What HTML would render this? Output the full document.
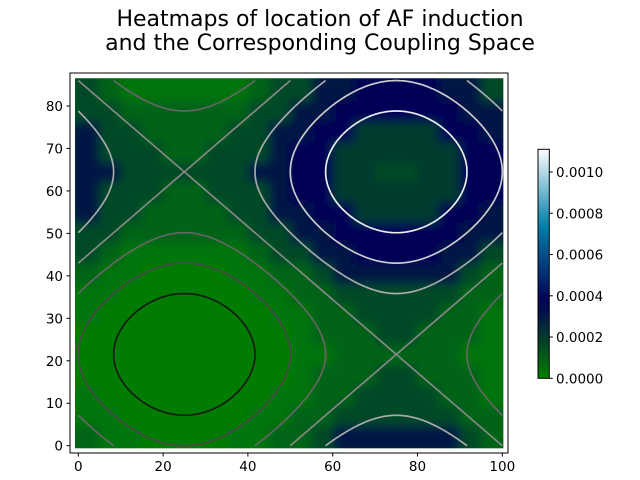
<!DOCTYPE html>
<html><head><meta charset="utf-8"><style>
body{margin:0;background:#fff;}
svg{display:block;font-family:"DejaVu Sans","Liberation Sans",sans-serif;}
</style></head><body>
<svg id="chart" width="640" height="480" viewBox="0 0 640 480">
<defs>
<clipPath id="hexclip"><rect x="75" y="78.3" width="428.3" height="370"/></clipPath>
<filter id="blur" x="-5%" y="-5%" width="110%" height="110%"><feGaussianBlur stdDeviation="5"/></filter>
<linearGradient id="cbgrad" x1="0" y1="1" x2="0" y2="0"></linearGradient>
</defs>
<text x="320" y="26" font-size="22" text-anchor="middle">Heatmaps of location of AF induction</text>
<text x="320" y="50" font-size="22" text-anchor="middle">and the Corresponding Coupling Space</text>
<g id="plot">
  <g clip-path="url(#hexclip)"><rect x="75" y="78.3" width="428.3" height="370" fill="#008000"/><g id="cells" filter="url(#blur)"></g></g>
  <g id="contours"></g>
  <rect x="70" y="73" width="438" height="380" fill="none" stroke="#000" stroke-width="1"/>
  <g id="xticks"></g><g id="yticks"></g>
</g>
<g id="colorbar">
  <rect x="538" y="149.3" width="11.3" height="229" fill="url(#cbgrad)" stroke="#000" stroke-width="1"/>
  <g id="cbticks"></g>
</g>
</svg>
<script>
// heatmap density (units 1e-4), rows from y=0 upward, 20 columns x 18 rows
const heatRows = [
[.8,.3,.3,.1,.1,.1,.1,.3,.3,.8,.8,1.6,3.0,3.0,3.0,3.0,3.0,3.0,1.6,.8],
[.3,.3,.1,.1,.1,.1,.1,.1,.3,.3,.8,.8,1.6,1.6,1.6,1.6,1.6,1.6,.8,.8],
[.3,.1,.1,.1,.1,.1,.1,.1,.1,.3,.3,.8,.8,1.6,1.6,1.6,1.6,.8,.8,.3],
[.1,.1,.1,.1,.1,.1,.1,.1,.1,.1,.3,.8,.8,.8,1.6,1.6,.8,.8,.8,.3],
[.1,.1,.1,.1,.1,.1,.1,.1,.1,.1,.3,.3,.8,.8,.8,.8,.8,.8,.3,.3],
[.1,.1,.1,.1,.1,.1,.1,.1,.1,.1,.3,.8,.8,.8,1.6,1.6,.8,.8,.8,.3],
[.3,.1,.1,.1,.1,.1,.1,.1,.1,.3,.3,.8,.8,1.6,1.6,1.6,1.6,.8,.8,.3],
[.3,.3,.1,.1,.1,.1,.1,.1,.3,.3,.8,.8,1.6,1.6,1.6,1.6,1.6,1.6,.8,.8],
[.8,.3,.3,.1,.1,.1,.1,.3,.3,.8,.8,1.6,3.0,3.0,3.0,3.0,3.0,3.0,1.6,.8],
[1.6,.8,.3,.3,.3,.3,.3,.3,.8,1.6,1.6,3.0,3.0,3.8,3.8,3.8,3.8,3.0,3.0,1.6],
[1.6,1.6,.8,.8,.8,.8,.8,.8,1.6,1.6,3.0,3.0,3.8,3.8,3.8,3.8,3.8,3.8,3.0,3.0],
[3.0,1.6,1.6,.8,.8,.8,.8,1.6,1.6,3.0,3.0,3.8,3.8,2.0,2.0,2.0,2.0,3.8,3.8,3.0],
[3.0,1.6,1.6,1.6,.8,.8,1.6,1.6,1.6,3.0,3.8,3.8,2.0,2.0,2.0,2.0,2.0,2.0,3.8,3.8],
[3.0,3.0,1.6,1.6,1.6,1.6,1.6,1.6,3.0,3.0,3.8,3.8,2.0,2.0,1.6,1.6,2.0,2.0,3.8,3.8],
[3.0,1.6,1.6,1.6,.8,.8,1.6,1.6,1.6,3.0,3.8,3.8,2.0,2.0,2.0,2.0,2.0,2.0,3.8,3.8],
[3.0,1.6,1.6,.8,.8,.8,.8,1.6,1.6,3.0,3.0,3.8,3.8,2.0,2.0,2.0,2.0,3.8,3.8,3.0],
[1.6,1.6,.8,.8,.8,.8,.8,.8,1.6,1.6,3.0,3.0,3.8,3.8,3.8,3.8,3.8,3.8,3.0,3.0],
[1.6,.8,.3,.3,.3,.3,.3,.3,.8,1.6,1.6,3.0,3.0,3.8,3.8,3.8,3.8,3.0,3.0,1.6]
];
const contourLevels = [-1.5,-1,-0.5,0,0.5,1,1.5];
const contourColors = ["#1a1a1a","#4a4a4a","#666666","#888888","#aaaaaa","#cccccc","#eeeeee"];
const fieldPeriods = [100, 86];
const xTicks = [0,20,40,60,80,100];
const yTicks = [0,10,20,30,40,50,60,70,80];
const cbTicks = [0,0.0002,0.0004,0.0006,0.0008,0.0010];
const cbLabels = ["0.0000","0.0002","0.0004","0.0006","0.0008","0.0010"];
const vmax = 0.00111;

const NS="http://www.w3.org/2000/svg";
const X = v => 78.3 + v*4.24;
const Y = v => 445.7 - v*4.246;
function mk(tag, attrs, parent){const e=document.createElementNS(NS,tag);for(const k in attrs)e.setAttribute(k,attrs[k]);parent.appendChild(e);return e;}
function ocean(t){t=Math.max(0,Math.min(1,t));const r=Math.max(0,3*t-2),g=Math.abs((3*t-1)/2),b=t;
  return "rgb("+Math.round(r*255)+","+Math.round(g*255)+","+Math.round(b*255)+")";}

// heat cells
const cells=document.getElementById('cells');
const nR=heatRows.length,nC=heatRows[0].length,cw=100/nC,ch=86/nR;
heatRows.forEach((row,r)=>row.forEach((v,c)=>{
  const e=mk('rect',{x:X(c===0?-2:c*cw),y:Y((r+1)*ch+(r===nR-1?2:0)),width:(c===0||c===nC-1?cw+2:cw)*4.24+0.5,height:(r===nR-1||r===0?ch+2:ch)*4.246+0.5,fill:ocean(v*1e-4/vmax)},cells);
  if(r===0)e.setAttribute('y',Y((r+1)*ch));
  
  
}));

// contours via marching squares
const f=(x,y)=>-(Math.sin(2*Math.PI*x/fieldPeriods[0])+Math.sin(2*Math.PI*y/fieldPeriods[1]));
const step=0.5,xs=[],ys=[];
for(let x=0.0003;x<=100;x+=step)xs.push(x);
xs.push(99.9997);
for(let y=0.0003;y<=86;y+=step)ys.push(y);
ys.push(85.9997);
const G=ys.map(y=>xs.map(x=>f(x,y)));
const cg=document.getElementById('contours');
contourLevels.forEach((L,li)=>{
  let d="";
  const lerp=(a,b,va,vb)=>a+(b-a)*(L-va)/(vb-va);
  for(let j=0;j<ys.length-1;j++)for(let i=0;i<xs.length-1;i++){
    const v0=G[j][i],v1=G[j][i+1],v2=G[j+1][i+1],v3=G[j+1][i];
    const pts=[];
    if((v0<L)!==(v1<L))pts.push([lerp(xs[i],xs[i+1],v0,v1),ys[j]]);
    if((v1<L)!==(v2<L))pts.push([xs[i+1],lerp(ys[j],ys[j+1],v1,v2)]);
    if((v2<L)!==(v3<L))pts.push([lerp(xs[i+1],xs[i],v2,v3),ys[j+1]]);
    if((v3<L)!==(v0<L))pts.push([xs[i],lerp(ys[j+1],ys[j],v3,v0)]);
    for(let k=0;k+1<pts.length;k+=2)d+="M"+X(pts[k][0]).toFixed(1)+" "+Y(pts[k][1]).toFixed(1)+"L"+X(pts[k+1][0]).toFixed(1)+" "+Y(pts[k+1][1]).toFixed(1);
  }
  const p=mk('path',{d:d,fill:"none",stroke:contourColors[li],"stroke-width":1.7,"stroke-linecap":"butt"},cg);
  
  
});

// ticks
const xg=document.getElementById('xticks');
xTicks.forEach(t=>{
  const l=mk('line',{x1:X(t),x2:X(t),y1:453,y2:456.5,stroke:"#000"},xg);
  
  const tx=mk('text',{x:X(t),y:471,"font-size":13.5,"text-anchor":"middle"},xg);tx.textContent=t;
  
});
const yg=document.getElementById('yticks');
yTicks.forEach(t=>{
  const l=mk('line',{x1:66.5,x2:70,y1:Y(t),y2:Y(t),stroke:"#000"},yg);
  
  const tx=mk('text',{x:63,y:Y(t)+5,"font-size":13.5,"text-anchor":"end"},yg);tx.textContent=t;
  
});
// colorbar
const grad=document.getElementById('cbgrad');
for(let i=0;i<=20;i++){mk('stop',{offset:(i/20),"stop-color":ocean(i/20)},grad);}
const CY=v=>378.3-(v/vmax)*229;
const cbg=document.getElementById('cbticks');
cbTicks.forEach((t,i)=>{
  const l=mk('line',{x1:549.3,x2:552.8,y1:CY(t),y2:CY(t),stroke:"#000"},cbg);
  
  const tx=mk('text',{x:556,y:CY(t)+5,"font-size":13.5},cbg);tx.textContent=cbLabels[i];
  
});
</script>
</body></html>
